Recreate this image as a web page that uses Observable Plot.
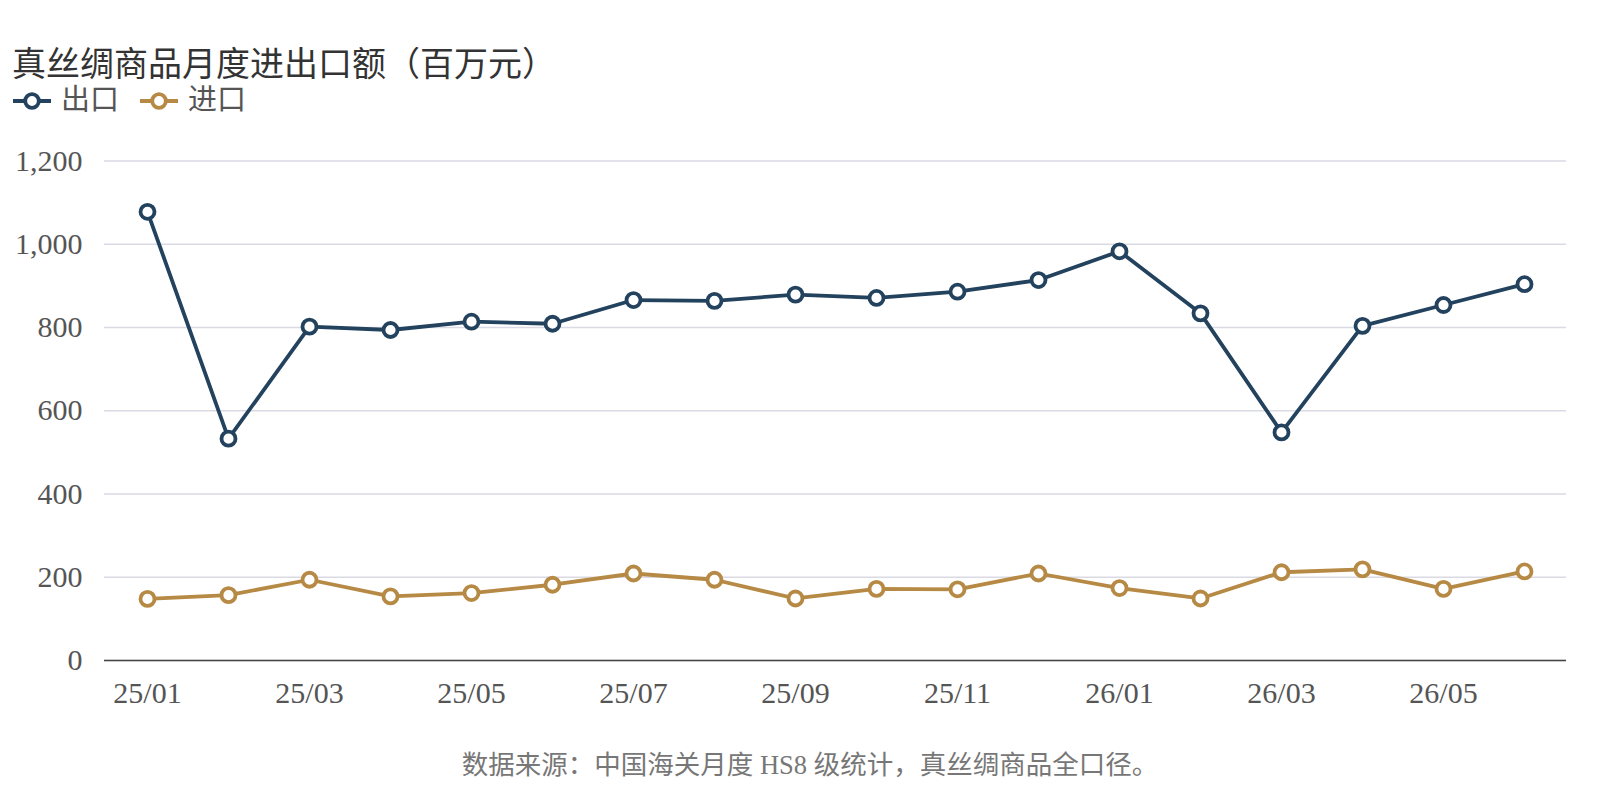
<!DOCTYPE html>
<html><head><meta charset="utf-8">
<script src="https://cdn.jsdelivr.net/npm/d3@7"></script>
<script src="https://cdn.jsdelivr.net/npm/@observablehq/plot@0.6"></script>
<style>
body{margin:0;background:#fff;width:1620px;height:788px;position:relative;overflow:hidden;font-family:"Liberation Serif","DejaVu Serif","Noto Sans CJK SC",serif;}
#title{position:absolute;left:12px;top:48px;font-size:34px;line-height:1;color:#333;white-space:nowrap;}
#legend{position:absolute;left:12px;top:86px;font-size:29px;line-height:1;color:#555;display:flex;align-items:center;gap:20px;}
.li{display:flex;align-items:center;gap:9px;}
#chart{position:absolute;left:0;top:120px;}
#caption{position:absolute;left:0;width:1620px;text-align:center;top:752px;font-size:26.5px;line-height:1;color:#777;}
</style></head>
<body>
<div id="title">真丝绸商品月度进出口额（百万元）</div>
<div id="legend"></div>
<div id="chart"></div>
<div id="caption">数据来源：中国海关月度 HS8 级统计，真丝绸商品全口径。</div>
<script>
const months = ["25/01","25/02","25/03","25/04","25/05","25/06","25/07","25/08","25/09","25/10","25/11","25/12","26/01","26/02","26/03","26/04","26/05","26/06"];
const exportVals = [1078,533,802,794,814,809,866,864,879,871,886,914,983,834,548,804,854,904];
const importVals = [148,157,194,154,162,182,209,194,149,172,171,209,174,149,212,219,172,214];
const seriesNames = ["出口","进口"];
const seriesColors = ["#23425e","#b68944"];
const yTicks = [0,200,400,600,800,1000,1200];
const xTickLabels = ["25/01","25/03","25/05","25/07","25/09","25/11","26/01","26/03","26/05"];

const data = [];
months.forEach((m,i)=>{
  data.push({month:m, value:exportVals[i], series:seriesNames[0]});
  data.push({month:m, value:importVals[i], series:seriesNames[1]});
});

const legend = document.getElementById("legend");
seriesNames.forEach((s,i)=>{
  const d = document.createElement("div"); d.className="li";
  d.innerHTML = `<svg width="40" height="22"><line x1="1" y1="11" x2="39" y2="11" stroke="${seriesColors[i]}" stroke-width="3.8"/><circle cx="20" cy="11" r="6.8" fill="#fff" stroke="${seriesColors[i]}" stroke-width="3.8"/></svg><span>${s}</span>`;
  legend.appendChild(d);
});

const chart = Plot.plot({
  width: 1620, height: 605,
  marginTop: 40.5, marginBottom: 65, marginLeft: 104, marginRight: 54,
  style: {fontFamily: '"Liberation Serif","DejaVu Serif","Noto Sans CJK SC",serif', fontSize: "30px", color: "#555", background: "#fff"},
  x: {type: "point", domain: months, padding: 0.5, label: null},
  y: {domain: [0,1200], label: null},
  color: {domain: seriesNames, range: seriesColors},
  marks: [
    Plot.gridY(yTicks, {stroke: "#d9dae3", strokeOpacity: 1, strokeWidth: 1.5}),
    Plot.axisY(yTicks, {tickSize: 0, tickPadding: 22, tickFormat: d3.format(","), fill: "#555", fontSize: 30}),
    Plot.axisX(xTickLabels, {tickSize: 0, tickPadding: 21, fill: "#555", fontSize: 30}),
    Plot.ruleY([0], {stroke: "#444", strokeWidth: 1.5}),
    Plot.line(data, {x: "month", y: "value", z: "series", stroke: "series", strokeWidth: 3.8}),
    Plot.dot(data, {x: "month", y: "value", stroke: "series", fill: "#fff", r: 7, strokeWidth: 3.8})
  ]
});
document.getElementById("chart").appendChild(chart);
</script>
</body></html>
